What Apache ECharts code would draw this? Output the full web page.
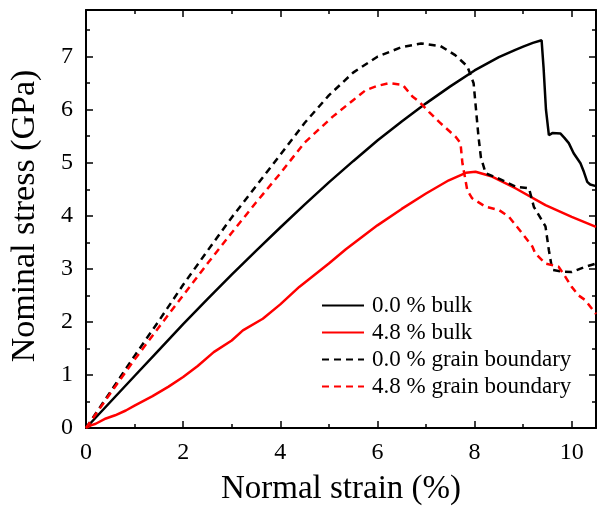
<!DOCTYPE html>
<html>
<head>
<meta charset="utf-8">
<script src="https://cdn.jsdelivr.net/npm/echarts@6/dist/echarts.min.js"></script>
<style>
html,body{margin:0;padding:0;background:#fff;}
#chart{width:597px;height:508px;}
</style>
</head>
<body>
<div id="chart"></div>
<script>
// ---- data (strain %, stress GPa) ----
var seriesNames = ['0.0 % bulk', '4.8 % bulk', '0.0 % grain boundary', '4.8 % grain boundary'];
var bulk00 = [[0,0],[0.5,0.49],[1,0.98],[1.5,1.47],[2,1.96],[2.5,2.43],[3,2.89],[3.5,3.34],[4,3.78],[4.5,4.21],[5,4.63],[5.5,5.03],[6,5.42],[6.5,5.78],[7,6.12],[7.5,6.44],[8,6.74],[8.5,6.99],[8.84,7.13],[9,7.19],[9.2,7.26],[9.38,7.31],[9.42,6.8],[9.47,6.0],[9.53,5.52],[9.6,5.56],[9.77,5.55],[9.85,5.47],[9.94,5.37],[10.04,5.18],[10.18,4.99],[10.25,4.83],[10.32,4.64],[10.38,4.59],[10.5,4.56]];
var bulk48 = [[0,0],[0.1,0.05],[0.2,0.08],[0.41,0.18],[0.6,0.24],[0.82,0.33],[1,0.42],[1.37,0.6],[1.7,0.78],[2,0.96],[2.3,1.17],[2.63,1.43],[3,1.65],[3.23,1.84],[3.64,2.06],[4,2.33],[4.39,2.66],[5,3.1],[5.35,3.37],[6,3.82],[6.5,4.13],[7,4.42],[7.47,4.67],[7.82,4.81],[8.02,4.83],[8.36,4.74],[8.84,4.52],[9.46,4.2],[10,3.98],[10.5,3.79]];
var gb00 = [[0,0],[0.5,0.68],[1,1.36],[1.5,2.02],[2,2.7],[2.5,3.34],[3,3.97],[3.5,4.56],[4,5.15],[4.5,5.75],[5,6.27],[5.5,6.7],[6,7.0],[6.5,7.18],[6.9,7.25],[7.3,7.2],[7.6,7.03],[7.85,6.82],[7.98,6.5],[8.03,6.0],[8.08,5.5],[8.13,5.1],[8.23,4.8],[8.5,4.7],[8.85,4.55],[9.12,4.52],[9.22,4.17],[9.46,3.8],[9.53,3.35],[9.6,2.98],[9.8,2.95],[10.0,2.94],[10.28,3.04],[10.5,3.1]];
var gb48 = [[0,0],[0.5,0.65],[1,1.29],[1.5,1.9],[2,2.5],[2.5,3.1],[3,3.68],[3.5,4.25],[4,4.8],[4.5,5.38],[5.08,5.87],[5.5,6.18],[5.76,6.37],[6,6.45],[6.24,6.5],[6.52,6.47],[6.72,6.25],[6.86,6.15],[7.06,5.96],[7.27,5.77],[7.61,5.49],[7.71,5.37],[7.75,4.99],[7.85,4.48],[7.95,4.33],[8.23,4.17],[8.5,4.11],[8.71,3.98],[8.98,3.67],[9.19,3.42],[9.25,3.29],[9.46,3.1],[9.73,3.04],[9.87,2.85],[10.0,2.66],[10.14,2.5],[10.28,2.41],[10.5,2.15]];
var xTickStep = 2, xMinorStep = 1, yTickStep = 1, yMinorStep = 0.5;
var xMin = 0, xMax = 10.5, yMin = 0, yMax = 7.88;
var xTitle = 'Normal strain (%)';
var yTitle = 'Nominal stress (GPa)';

var FONT = '"Liberation Serif", "Times New Roman", serif';
var chart = echarts.init(document.getElementById('chart'));

function mkX(pos, step, len, labels, line) {
  return {
    type: 'value', position: pos, min: xMin, max: xMax, interval: step,
    axisLine: {show: line, onZero: false, lineStyle: {color: '#000', width: 2}},
    axisTick: {show: true, inside: true, length: len, lineStyle: {color: '#000', width: 1.5}},
    axisLabel: {show: labels, showMaxLabel: false, margin: 13, fontSize: 24, color: '#000', fontFamily: FONT},
    splitLine: {show: false}
  };
}
function mkY(pos, step, len, labels, line) {
  return {
    type: 'value', position: pos, min: yMin, max: yMax, interval: step,
    axisLine: {show: line, onZero: false, lineStyle: {color: '#000', width: 2}},
    axisTick: {show: true, inside: true, length: len, lineStyle: {color: '#000', width: 1.5}},
    axisLabel: {show: labels, showMaxLabel: false, margin: 13, fontSize: 24, color: '#000', fontFamily: FONT},
    splitLine: {show: false}
  };
}
var xAxes = [mkX('bottom', xTickStep, 7, true, true), mkX('bottom', xMinorStep, 4, false, false),
             mkX('top', xTickStep, 7, false, true), mkX('top', xMinorStep, 4, false, false)];
xAxes[0].name = xTitle;
xAxes[0].nameLocation = 'middle';
xAxes[0].nameGap = 45;
xAxes[0].nameTextStyle = {fontSize: 33, color: '#000', fontFamily: FONT};
var yAxes = [mkY('left', yTickStep, 7, true, true), mkY('left', yMinorStep, 4, false, false),
             mkY('right', yTickStep, 7, false, true), mkY('right', yMinorStep, 4, false, false)];

var colors = ['#000000', '#ff0000', '#000000', '#ff0000'];
var dataSets = [bulk00, bulk48, gb00, gb48];
var series = dataSets.map(function (d, i) {
  return {
    name: seriesNames[i], type: 'line', data: d, symbol: 'none', smooth: false,
    xAxisIndex: 0, yAxisIndex: 0, animation: false,
    lineStyle: {color: colors[i], width: 2.5, type: i >= 2 ? [7, 5] : 'solid'},
    itemStyle: {color: colors[i]}
  };
});

chart.setOption({
  animation: false,
  grid: {left: 86, right: 1, top: 10, bottom: 80, containLabel: false, outerBoundsMode: 'none'},
  xAxis: xAxes,
  yAxis: yAxes,
  legend: {
    data: seriesNames, orient: 'vertical', left: 316, top: 289,
    itemWidth: 42, itemHeight: 14, itemGap: 4,
    itemStyle: {opacity: 0},
    textStyle: {fontSize: 23, color: '#000', fontFamily: FONT, lineHeight: 23, padding: [0, 0, 0, 3]}
  },
  graphic: [{
    type: 'text', x: 25, y: 216, rotation: Math.PI / 2,
    style: {text: yTitle, font: '34px ' + FONT, fill: '#000', align: 'center', verticalAlign: 'middle'}
  }],
  series: series
});
</script>
</body>
</html>
